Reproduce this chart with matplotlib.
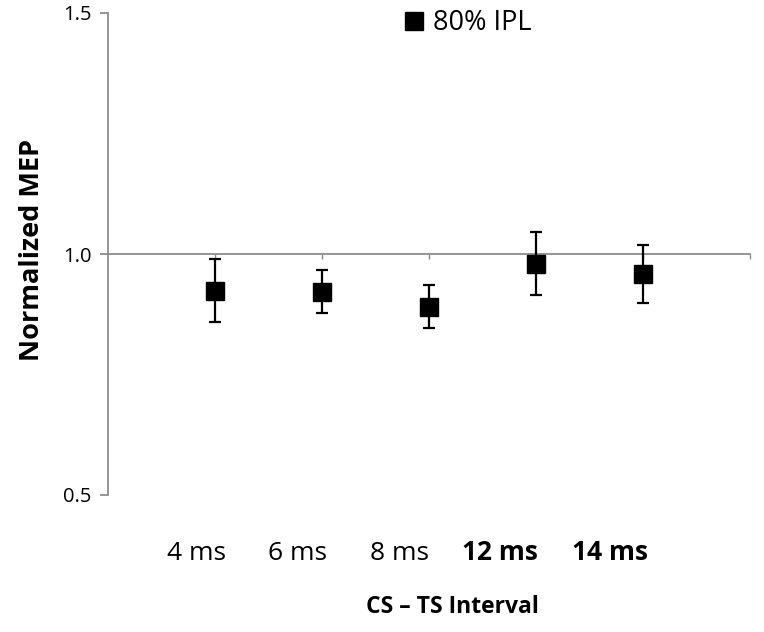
import numpy as np
import matplotlib
matplotlib.use('Agg')
import matplotlib.pyplot as plt
import matplotlib.transforms as mtransforms

plt.rcParams['font.family'] = ['Open Sans', 'DejaVu Sans']

# data
Intervals = ['4 ms', '6 ms', '8 ms', '12 ms', '14 ms']
Bold_Label = [False, False, False, True, True]
MEP_80 = [0.924, 0.922, 0.891, 0.980, 0.958]
MEP_80_err = [0.065, 0.044, 0.045, 0.066, 0.060]

x = np.arange(1, len(Intervals) + 1)
# the category labels sit a bit left of the points in the original
label_shift = [-0.17, -0.23, -0.28, -0.34, -0.31]

fig = plt.figure(figsize=(7.64, 6.32), dpi=100)
ax = fig.add_axes([108/764, 1 - 495/632, 642/764, 482/632])

grey = '#8c8c8c'
ax.errorbar(x, MEP_80, yerr=MEP_80_err, fmt='none', ecolor='black',
            elinewidth=1.6, capsize=4.5, capthick=1.6, zorder=3)
ax.plot(x, MEP_80, 's', color='black', markersize=13.5, label='80% IPL', zorder=4)

ax.set_xlim(0, 6)
ax.set_ylim(0.5, 1.5)
ax.set_yticks([0.5, 1.0, 1.5])
ax.set_yticklabels(['0.5', '1.0', '1.5'], fontsize=14.5)
ax.set_xticks(np.arange(1, 7))
ax.set_xticklabels([])

for s in ['top', 'right']:
    ax.spines[s].set_visible(False)
ax.spines['bottom'].set_position(('data', 1.0))
ax.spines['bottom'].set_color(grey)
ax.spines['left'].set_color(grey)
ax.spines['bottom'].set_linewidth(1.3)
ax.spines['left'].set_linewidth(1.3)
ax.tick_params(axis='y', length=6, width=1.3, color=grey, pad=6)
ax.tick_params(axis='x', length=3.5, width=1.0, color=grey, direction='out')

trans = mtransforms.blended_transform_factory(ax.transData, fig.transFigure)
for i, lab in enumerate(Intervals):
    ax.text(x[i] + label_shift[i], 1 - 553/632, lab, transform=trans,
            ha='center', va='center', fontsize=19,
            fontweight='bold' if Bold_Label[i] else 'normal')

fig.text(452/764, 1 - 607/632, 'CS \u2013 TS Interval', ha='center', va='center',
         fontsize=16.5, fontweight='bold')
fig.text(32/764, 1 - 250/632, 'Normalized MEP', ha='center', va='center',
         rotation=90, fontsize=19.5, fontweight='bold')

ax.legend(loc='center left', bbox_to_anchor=(405/764, 1 - 23/632),
          bbox_transform=fig.transFigure, frameon=False, fontsize=19.5,
          handlelength=0.7, handletextpad=0.35, borderpad=0, borderaxespad=0,
          markerscale=1.0)

fig.savefig('out.png', dpi=100)
